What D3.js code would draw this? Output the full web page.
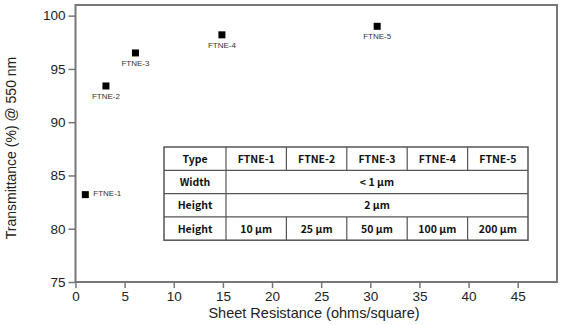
<!DOCTYPE html>
<html>
<head>
<meta charset="utf-8">
<script src="https://cdn.jsdelivr.net/npm/d3@7"></script>
<style>
  body { margin: 0; background: #fff; }
  svg { display: block; }
</style>
</head>
<body>
<svg id="chart"></svg>
<script>
// Data
const samples = ["FTNE-1", "FTNE-2", "FTNE-3", "FTNE-4", "FTNE-5"];
const resistance = [1.0, 3.1, 6.1, 14.9, 30.7];
const transmittance = [83.2, 93.4, 96.5, 98.2, 99.0];
const xTicks = [0, 5, 10, 15, 20, 25, 30, 35, 40, 45];
const yTicks = [75, 80, 85, 90, 95, 100];

// Table contents
const tableHeader = ["Type", "FTNE-1", "FTNE-2", "FTNE-3", "FTNE-4", "FTNE-5"];
const widthRow = ["Width", "< 1 \u03bcm"];
const heightRow = ["Height", "2 \u03bcm"];
const lengthRow = ["Height", "10 \u03bcm", "25 \u03bcm", "50 \u03bcm", "100 \u03bcm", "200 \u03bcm"];

const W = 561, H = 325;
const svg = d3.select("#chart").attr("width", W).attr("height", H);

const x = d3.scaleLinear().domain([0, 49]).range([75.5, 557]);
const y = d3.scaleLinear().domain([75, 101]).range([282, 5]);

const axisColor = "#777";
const font = "Liberation Sans, Arial, sans-serif";

// Plot frame
svg.append("rect")
    .attr("x", x(0)).attr("y", y(101))
    .attr("width", x(49) - x(0)).attr("height", y(75) - y(101))
    .attr("fill", "none").attr("stroke", axisColor).attr("stroke-width", 2);

// X axis with minor ticks
const gx = svg.append("g").attr("transform", `translate(0,${y(75)})`);
gx.call(d3.axisBottom(x).tickValues(d3.range(0, 49, 2.5)).tickSize(5).tickFormat(""));
gx.call(d3.axisBottom(x).tickValues(xTicks).tickSize(6).tickPadding(3).tickFormat(d3.format("d")));
gx.selectAll("path.domain").remove();
gx.selectAll("line").attr("stroke", axisColor).attr("stroke-width", 1.5);
gx.selectAll("text").attr("font-family", font).attr("font-size", 13.5).attr("fill", "#222");

// Y axis with minor ticks
const gy = svg.append("g").attr("transform", `translate(${x(0)},0)`);
gy.call(d3.axisLeft(y).tickValues(d3.range(75, 100.1, 2.5)).tickSize(5).tickFormat(""));
gy.call(d3.axisLeft(y).tickValues(yTicks).tickSize(7).tickPadding(3).tickFormat(d3.format("d")));
gy.selectAll("path.domain").remove();
gy.selectAll("line").attr("stroke", axisColor).attr("stroke-width", 1.5);
gy.selectAll("text").attr("font-family", font).attr("font-size", 13.5).attr("fill", "#222");

// Axis titles
svg.append("text")
    .attr("x", 314).attr("y", 318)
    .attr("text-anchor", "middle")
    .attr("font-family", font)
    .attr("font-size", 14.5).attr("fill", "#222")
    .text("Sheet Resistance (ohms/square)");

svg.append("text")
    .attr("transform", "translate(16,148) rotate(-90)")
    .attr("text-anchor", "middle")
    .attr("font-family", font)
    .attr("font-size", 14).attr("fill", "#222")
    .text("Transmittance (%) @ 550 nm");

// Points
const points = samples.map((s, i) => ({ name: s, r: resistance[i], t: transmittance[i] }));
const sz = 7;
svg.selectAll("rect.pt").data(points).enter().append("rect")
    .attr("class", "pt")
    .attr("x", d => x(d.r) - sz / 2).attr("y", d => y(d.t) - sz / 2)
    .attr("width", sz).attr("height", sz).attr("fill", "#000");

svg.selectAll("text.lbl").data(points).enter().append("text")
    .attr("class", "lbl")
    .attr("x", (d, i) => i === 0 ? x(d.r) + 8 : x(d.r))
    .attr("y", (d, i) => i === 0 ? y(d.t) + 1 : y(d.t) + 13)
    .attr("text-anchor", (d, i) => i === 0 ? "start" : "middle")
    .attr("font-family", font)
    .attr("font-size", 8).attr("fill", "#333")
    .text(d => d.name);

// Table
const tx0 = 164, tcol0 = 226, tx1 = 528, ty0 = 147, rowH = 23.3;
const colW = (tx1 - tcol0) / 5;
const tbl = svg.append("g");
const tableFont = "'Noto Sans CJK KR', 'Liberation Sans', sans-serif";
const lineColor = "#555";

tbl.append("rect").attr("x", tx0).attr("y", ty0)
    .attr("width", tx1 - tx0).attr("height", rowH * 4)
    .attr("fill", "#fff").attr("stroke", lineColor).attr("stroke-width", 1.5);

// horizontal row lines
d3.range(1, 4).forEach(r => {
    tbl.append("line").attr("x1", tx0).attr("x2", tx1)
        .attr("y1", ty0 + r * rowH).attr("y2", ty0 + r * rowH)
        .attr("stroke", lineColor).attr("stroke-width", 1.2);
});
// first column divider
tbl.append("line").attr("x1", tcol0).attr("x2", tcol0)
    .attr("y1", ty0).attr("y2", ty0 + 4 * rowH)
    .attr("stroke", lineColor).attr("stroke-width", 1.2);
// column dividers for rows 0 and 3
d3.range(1, 5).forEach(c => {
    [0, 3].forEach(r => {
        tbl.append("line").attr("x1", tcol0 + c * colW).attr("x2", tcol0 + c * colW)
            .attr("y1", ty0 + r * rowH).attr("y2", ty0 + (r + 1) * rowH)
            .attr("stroke", lineColor).attr("stroke-width", 1.2);
    });
});

function cellText(txt, cx, r) {
    tbl.append("text")
        .attr("x", cx).attr("y", ty0 + r * rowH + rowH / 2 + 4)
        .attr("text-anchor", "middle")
        .attr("font-family", tableFont)
        .attr("font-weight", "bold")
        .attr("font-size", 10.5).attr("fill", "#111")
        .text(txt);
}

const firstColCx = (tx0 + tcol0) / 2;
[tableHeader, widthRow, heightRow, lengthRow].forEach((row, r) => {
    cellText(row[0], firstColCx, r);
    if (row.length === 2) {
        cellText(row[1], (tcol0 + tx1) / 2, r);
    } else {
        row.slice(1).forEach((v, c) => cellText(v, tcol0 + (c + 0.5) * colW, r));
    }
});
</script>
</body>
</html>
